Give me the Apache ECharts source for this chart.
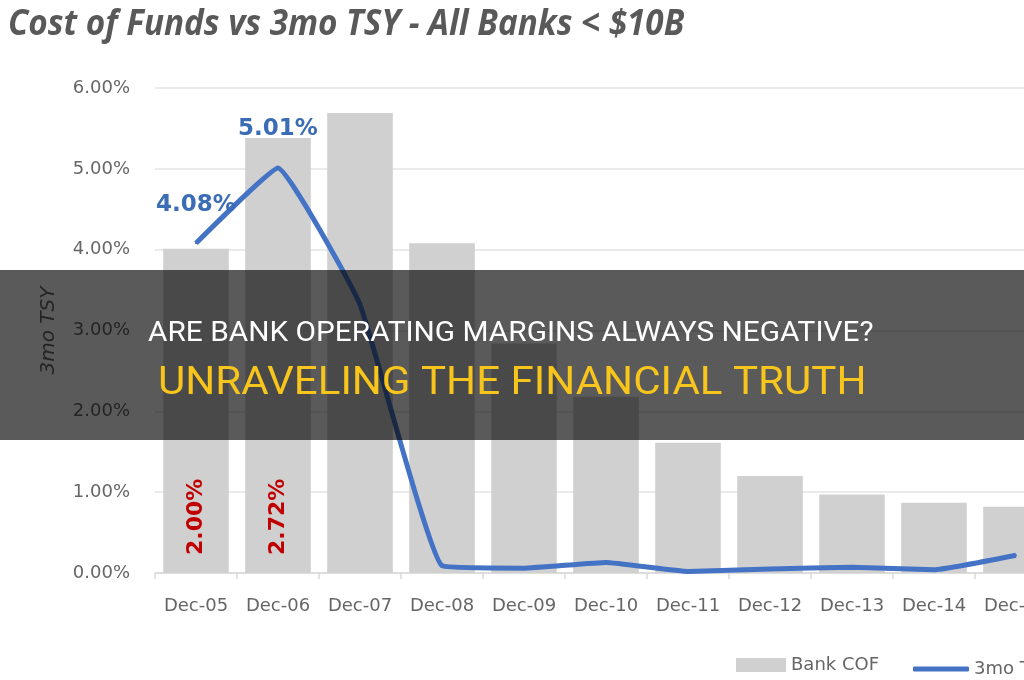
<!DOCTYPE html>
<html>
<head>
<meta charset="utf-8">
<script src="https://cdn.jsdelivr.net/npm/echarts@6/dist/echarts.min.js"></script>
<style>
  html, body { margin: 0; padding: 0; background: #fff; }
  #chart { width: 1024px; height: 680px; }
</style>
</head>
<body>
<div id="chart"></div>
<script>
const categories = ["Dec-05", "Dec-06", "Dec-07", "Dec-08", "Dec-09", "Dec-10", "Dec-11", "Dec-12", "Dec-13", "Dec-14", "Dec-15"];
const bankCof = [4.01, 5.38, 5.69, 4.08, 2.84, 2.18, 1.61, 1.20, 0.97, 0.87, 0.82];
const tsy3mo = [4.08, 5.01, 3.32, 0.09, 0.06, 0.13, 0.02, 0.05, 0.07, 0.04, 0.22];
const bankCofLabels = ["2.00%", "2.72%", "", "", "", "", "", "", "", "", ""];
const tsyLabels = ["4.08%", "5.01%", "", "", "", "", "", "", "", "", ""];
const yTicks = [0, 1, 2, 3, 4, 5, 6];

const chartTitle = "Cost of Funds vs 3mo TSY - All Banks < $10B";
const headline = "ARE BANK OPERATING MARGINS ALWAYS NEGATIVE?";
const subline = "UNRAVELING THE FINANCIAL TRUTH";

const axisFont = "DejaVu Sans";
const lineColor = "#4472c4";
const legendText = { fontFamily: axisFont, fontSize: 18, color: "#666" };

const chart = echarts.init(document.getElementById("chart"));

const option = {
  backgroundColor: "#fff",
  animation: false,
  grid: {
    left: 155,
    top: 88,
    width: 902,
    height: 485,
    outerBoundsMode: "none",
  },
  // two legends so the line swatch can be a thick bar like the original
  legend: [
    {
      left: 731,
      top: 651,
      itemWidth: 50,
      itemHeight: 14,
      textStyle: legendText,
      data: [{ name: "Bank COF", icon: "rect" }],
    },
    {
      left: 908,
      top: 655,
      width: 300,
      itemWidth: 56,
      itemHeight: 5,
      textStyle: legendText,
      data: [{ name: "3mo TSY", icon: "roundRect" }],
    },
  ],
  xAxis: {
    type: "category",
    data: categories,
    axisLine: { lineStyle: { color: "#d9d9d9", width: 1.5 } },
    axisTick: { show: true, length: 6, lineStyle: { color: "#d9d9d9", width: 1.5 } },
    axisLabel: {
      fontFamily: axisFont,
      fontSize: 18,
      color: "#666",
      margin: 24,
      interval: 0,
    },
  },
  yAxis: {
    type: "value",
    min: yTicks[0],
    max: yTicks[yTicks.length - 1],
    interval: yTicks[1] - yTicks[0],
    name: "3mo TSY",
    nameLocation: "middle",
    nameGap: 96,
    nameTextStyle: {
      fontFamily: axisFont,
      fontStyle: "italic",
      fontSize: 20,
      color: "#666",
    },
    axisLine: { show: false },
    axisTick: { show: false },
    splitLine: { lineStyle: { color: "#e3e3e3", width: 1.5 } },
    axisLabel: {
      fontFamily: axisFont,
      fontSize: 18,
      color: "#666",
      margin: 25,
      formatter: (v) => v.toFixed(2) + "%",
    },
  },
  series: [
    {
      name: "Bank COF",
      type: "bar",
      data: bankCof,
      barCategoryGap: "20%",
      itemStyle: { color: "#d0d0d0" },
      label: {
        show: true,
        position: "insideBottom",
        rotate: 90,
        align: "left",
        verticalAlign: "middle",
        distance: 18,
        fontFamily: axisFont,
        fontWeight: "bold",
        fontSize: 22,
        color: "#c00000",
        formatter: (p) => bankCofLabels[p.dataIndex],
      },
    },
    {
      name: "3mo TSY",
      type: "line",
      data: tsy3mo,
      smooth: 0.1,
      symbol: "circle",
      symbolSize: 2,
      showSymbol: true,
      lineStyle: { color: lineColor, width: 5 },
      itemStyle: { color: lineColor },
      label: {
        show: true,
        position: "top",
        distance: 26,
        fontFamily: axisFont,
        fontWeight: "bold",
        fontSize: 23,
        color: "#3a6db5",
        formatter: (p) => tsyLabels[p.dataIndex],
      },
    },
  ],
  graphic: [
    {
      type: "text",
      x: 8,
      y: 8,
      scaleX: 0.95,
      z: 10,
      style: {
        text: chartTitle,
        font: "italic bold 35px 'Open Sans'",
        fill: "#595959",
        verticalAlign: "top",
      },
    },
    // dark banner laid over the chart
    {
      type: "rect",
      z: 100,
      shape: { x: 0, y: 270, width: 1024, height: 170 },
      style: { fill: "rgba(0,0,0,0.647)" },
    },
    {
      type: "text",
      x: 148,
      y: 334,
      scaleX: 1.104,
      z: 101,
      style: {
        text: headline,
        font: "27px Roboto",
        fill: "#ffffff",
        verticalAlign: "middle",
      },
    },
    {
      type: "text",
      x: 158,
      y: 384,
      scaleX: 1.108,
      z: 101,
      style: {
        text: subline,
        font: "38px Roboto",
        fill: "#f7c51c",
        verticalAlign: "middle",
      },
    },
  ],
};

chart.setOption(option);
</script>
</body>
</html>
